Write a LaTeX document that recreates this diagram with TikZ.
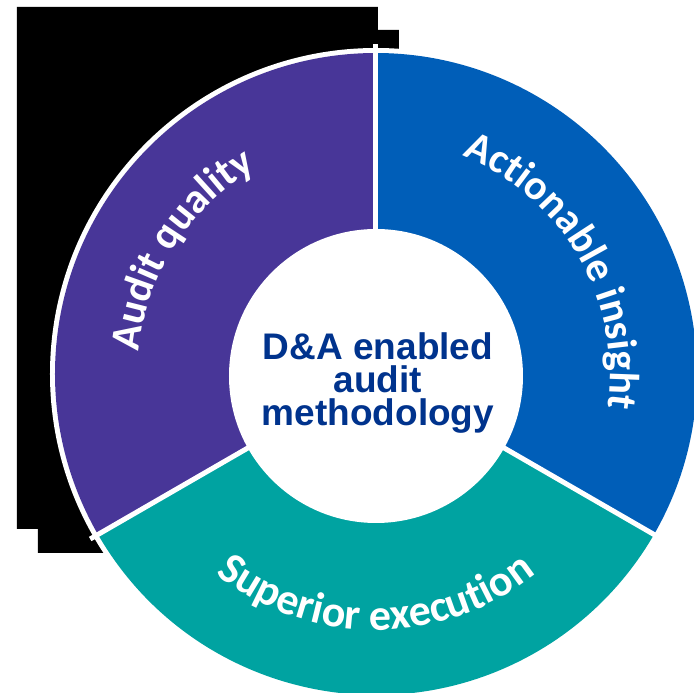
\documentclass[tikz,border=0pt]{standalone}
\usepackage{fontspec}
\setmainfont{Liberation Sans}
\newfontfamily\arcfamily{Carlito}
\usetikzlibrary{decorations.text}
\definecolor{kpurple}{HTML}{483698}
\definecolor{kblue}{HTML}{005EB8}
\definecolor{kteal}{HTML}{00A3A1}
\definecolor{kdark}{HTML}{00338D}
\newcommand\myarcfont{\arcfamily\bfseries\fontsize{42}{42}\selectfont}
\newcommand\mybigarcfont{\arcfamily\bfseries\fontsize{44}{44}\selectfont}
\begin{document}
\begin{tikzpicture}[x=1pt,y=1pt,
  arctext/.style={decorate, decoration={text along path, text align=center, text color=white, text={|\myarcfont|#1}}},
  bigarctext/.style={decorate, decoration={text along path, text align=center, text color=white, text={|\mybigarcfont|#1}}},
  divider/.style={white, line width=5}]
\useasboundingbox (-376,-319) rectangle (318,374);
% black backdrop
\fill[black] (-359,367) -- (2,367) -- (2,344) -- (23,344) -- (23,0) -- (0,0) -- (-266,-179) -- (-338,-179) -- (-338,-155) -- (-359,-155) -- cycle;
% donut
\fill[white] (0,0) circle (326);
\fill[kpurple] (0,0) -- (90:321) arc (90:210:321) -- cycle;
\fill[kteal] (0,0) -- (210:321) arc (210:330:321) -- cycle;
\fill[kblue] (0,0) -- (-30:321) arc (-30:90:321) -- cycle;
\foreach \a in {90,210,330} \draw[divider] (0,0) -- (\a:330);
\fill[white] (0,-2) circle (147);
% arc labels
\path[arctext=Audit quality] (207:238) arc (207:88:238);
\path[arctext=Actionable insight] (95:234) arc (95:-35:234);
\path[bigarctext=Superior execution] (200:256) arc (200:340:256);
% centre
\node[text=kdark, font=\bfseries\fontsize{37}{33}\selectfont, align=center] (centre) at (2,-9) {D\&A enabled\\audit\\methodology};
\end{tikzpicture}
\end{document}
